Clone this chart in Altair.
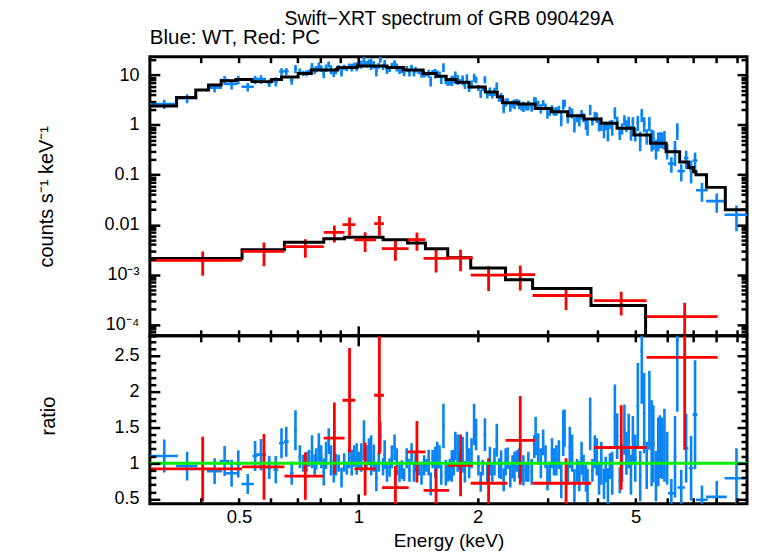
import altair as alt
import numpy as np
import pandas as pd

FONT = "Liberation Sans"
BLUE = "#0a84f5"
RED = "#ff0000"
GREEN = "#00ee00"

W = 599
H_TOP = 280
H_BOT = 168.5

E_DOMAIN = [0.298, 9.55]
C_DOMAIN = [5.9e-5, 23.4]
R_DOMAIN = [0.433, 2.78]

# ---------------- model (step functions) ----------------
wt_edges = [0.298, 0.348, 0.389, 0.419, 0.451, 0.491, 0.539, 0.604, 0.640, 0.705,
            0.761, 0.887, 0.994, 1.181, 1.299, 1.457, 1.572, 1.665, 1.764, 1.900,
            2.090, 2.240, 2.310, 2.530, 2.790, 3.070, 3.370, 3.710, 4.090, 4.490,
            4.950, 5.450, 5.970, 6.460, 6.800, 7.000, 7.100, 7.550, 8.420, 9.550]
wt_model = [2.4, 3.57, 5.0, 6.3, 7.7, 8.2, 7.4, 8.2, 9.2, 10.8,
            12.6, 14.2, 15.3, 14.2, 12.6, 10.8, 9.5, 8.2, 7.2, 5.8,
            4.6, 3.7, 2.8, 2.63, 2.15, 1.84, 1.53, 1.32, 1.08, 0.86,
            0.63, 0.43, 0.29, 0.18, 0.14, 0.115, 0.1, 0.056, 0.02]

pc_edges = [0.298, 0.509, 0.651, 0.818, 0.923, 1.154, 1.330, 1.476, 1.680, 1.920,
            2.350, 2.750, 3.860, 5.300, 9.550]
pc_model = [2.09e-3, 3.16e-3, 4.43e-3, 5.25e-3, 5.57e-3, 5.0e-3, 4.3e-3, 3.3e-3,
            2.16e-3, 1.36e-3, 7.9e-4, 5.25e-4, 2.4e-4, 1e-5]

# ---------------- WT data (blue) ----------------
blue_e = [
    0.324, 0.370, 0.434, 0.460, 0.479, 0.498, 0.526, 0.549, 0.568, 0.596, 0.619, 0.640, 0.658, 0.679, 0.694,
    0.712, 0.726, 0.740, 0.751, 0.764, 0.776, 0.783, 0.795, 0.806, 0.818, 0.829, 0.842, 0.853, 0.867, 0.878,
    0.892, 0.907, 0.921, 0.935, 0.948, 0.962, 0.976, 0.990, 1.004, 1.017, 1.033, 1.049, 1.063, 1.077, 1.094,
    1.110, 1.126, 1.136, 1.154, 1.165, 1.181, 1.199, 1.215, 1.234, 1.250, 1.270, 1.287, 1.304, 1.324, 1.345,
    1.362, 1.381, 1.394, 1.421, 1.443, 1.465, 1.485, 1.504, 1.522, 1.539, 1.563, 1.581, 1.602, 1.618, 1.639,
    1.662, 1.681, 1.701, 1.720, 1.740, 1.756, 1.780, 1.801, 1.832, 1.856, 1.878, 1.903, 1.929, 1.958, 1.981,
    2.008, 2.035, 2.058, 2.085, 2.114, 2.146, 2.176, 2.204, 2.234, 2.264, 2.291, 2.325, 2.352, 2.379, 2.416,
    2.448, 2.476, 2.510, 2.544, 2.577, 2.607, 2.648, 2.683, 2.736, 2.777, 2.799, 2.841, 2.885, 2.924, 2.964,
    2.998, 3.038, 3.078, 3.114, 3.157, 3.204, 3.248, 3.286, 3.311, 3.374, 3.413, 3.460, 3.506, 3.560, 3.607,
    3.655, 3.697, 3.749, 3.783, 3.842, 3.893, 3.947, 3.992, 4.045, 4.099, 4.163, 4.204, 4.259, 4.309, 4.366,
    4.434, 4.493, 4.562, 4.623, 4.687, 4.741, 4.804, 4.868, 4.923, 4.992, 5.067, 5.137, 5.184, 5.256, 5.335,
    5.418, 5.490, 5.543, 5.629, 5.704, 5.760, 5.836, 5.913, 6.006, 6.155, 6.287, 6.371, 6.518, 6.707, 6.902,
    7.063, 7.352, 8.011, 8.983]
blue_hw = [
    0.027, 0.023, 0.019, 0.013, 0.016, 0.008, 0.019, 0.008, 0.017, 0.008, 0.008, 0.009, 0.009, 0.007, 0.006,
    0.006, 0.006, 0.006, 0.006, 0.006, 0.006, 0.006, 0.006, 0.006, 0.006, 0.006, 0.006, 0.006, 0.006, 0.006,
    0.007, 0.007, 0.007, 0.007, 0.007, 0.007, 0.007, 0.007, 0.007, 0.007, 0.007, 0.007, 0.007, 0.007, 0.007,
    0.009, 0.009, 0.009, 0.009, 0.009, 0.009, 0.009, 0.009, 0.009, 0.009, 0.009, 0.009, 0.009, 0.009, 0.009,
    0.010, 0.010, 0.010, 0.010, 0.010, 0.010, 0.010, 0.010, 0.010, 0.010, 0.010, 0.010, 0.010, 0.010, 0.010,
    0.012, 0.012, 0.012, 0.012, 0.012, 0.012, 0.012, 0.012, 0.012, 0.012, 0.012, 0.012, 0.012, 0.012, 0.012,
    0.015, 0.015, 0.015, 0.015, 0.015, 0.015, 0.015, 0.015, 0.015, 0.015, 0.015, 0.015, 0.015, 0.015, 0.015,
    0.018, 0.018, 0.018, 0.018, 0.018, 0.018, 0.018, 0.018, 0.018, 0.018, 0.018, 0.018, 0.018, 0.018, 0.018,
    0.021, 0.021, 0.021, 0.021, 0.021, 0.021, 0.021, 0.021, 0.021, 0.021, 0.021, 0.021, 0.021, 0.021, 0.021,
    0.025, 0.025, 0.025, 0.025, 0.025, 0.025, 0.025, 0.025, 0.025, 0.025, 0.025, 0.025, 0.025, 0.025, 0.025,
    0.033, 0.033, 0.033, 0.033, 0.033, 0.033, 0.033, 0.033, 0.033, 0.033, 0.038, 0.038, 0.038, 0.038, 0.038,
    0.040, 0.040, 0.040, 0.040, 0.040, 0.040, 0.040, 0.040, 0.040, 0.120, 0.050, 0.050, 0.140, 0.090, 0.090,
    0.100, 0.250, 0.480, 0.600]
blue_ratio = [
    1.10, 0.96, 0.89, 1.03, 0.86, 0.99, 0.71, 1.10, 1.12, 0.94, 0.91, 1.28, 1.30, 0.86, 1.46,
    1.09, 1.00, 1.02, 1.07, 1.16, 0.98, 1.06, 1.22, 1.09, 0.88, 1.11, 1.31, 1.04, 0.88, 0.98,
    1.00, 0.80, 1.01, 0.93, 1.07, 1.01, 1.10, 1.06, 1.04, 1.08, 1.32, 1.09, 1.16, 1.11, 1.07,
    0.80, 1.02, 1.37, 0.95, 1.12, 0.88, 0.94, 1.09, 1.22, 1.02, 0.88, 0.91, 0.84, 1.07, 0.90,
    1.15, 0.88, 1.02, 0.91, 0.86, 0.97, 0.97, 1.01, 0.71, 1.06, 1.01, 1.11, 1.09, 0.84, 1.52,
    0.87, 0.87, 0.91, 0.96, 1.01, 1.24, 1.14, 1.04, 1.12, 0.88, 1.23, 1.00, 1.14, 1.54, 1.40,
    0.97, 0.74, 0.94, 1.40, 0.88, 1.03, 0.86, 1.02, 1.32, 0.93, 0.98, 0.77, 1.02, 1.07, 0.82,
    0.95, 0.95, 1.03, 1.00, 0.88, 0.90, 0.88, 0.95, 0.88, 1.23, 1.38, 1.20, 1.00, 1.29, 1.09,
    0.80, 0.86, 1.14, 1.02, 1.04, 1.12, 0.76, 1.42, 1.49, 0.86, 1.22, 1.14, 0.69, 0.90, 0.82,
    1.07, 0.93, 0.79, 0.69, 1.55, 0.90, 1.16, 1.09, 0.79, 1.00, 0.71, 0.91, 0.68, 0.96, 0.86,
    1.65, 1.38, 0.76, 1.00, 1.47, 1.14, 1.31, 0.84, 1.34, 1.07, 1.80, 0.82, 2.58, 1.70, 0.97,
    1.74, 1.28, 1.27, 0.82, 1.16, 1.23, 1.21, 1.25, 1.07, 0.58, 1.09, 2.72, 0.66, 1.21, 0.93,
    1.68, 0.49, 0.53, 0.79]
blue_rerr = [
    0.23, 0.20, 0.18, 0.21, 0.19, 0.19, 0.14, 0.21, 0.22, 0.16, 0.19, 0.21, 0.21, 0.16, 0.28,
    0.16, 0.12, 0.14, 0.12, 0.23, 0.15, 0.15, 0.20, 0.16, 0.19, 0.19, 0.18, 0.21, 0.15, 0.15,
    0.12, 0.14, 0.13, 0.09, 0.14, 0.18, 0.15, 0.22, 0.12, 0.20, 0.28, 0.16, 0.19, 0.28, 0.19,
    0.19, 0.14, 0.21, 0.12, 0.20, 0.14, 0.13, 0.16, 0.18, 0.19, 0.14, 0.13, 0.09, 0.14, 0.16,
    0.13, 0.14, 0.14, 0.08, 0.16, 0.14, 0.09, 0.18, 0.16, 0.13, 0.22, 0.19, 0.16, 0.14, 0.31,
    0.18, 0.13, 0.15, 0.22, 0.18, 0.20, 0.26, 0.12, 0.25, 0.15, 0.21, 0.21, 0.21, 0.29, 0.22,
    0.14, 0.14, 0.11, 0.23, 0.14, 0.20, 0.12, 0.19, 0.23, 0.14, 0.20, 0.16, 0.19, 0.15, 0.16,
    0.16, 0.21, 0.15, 0.21, 0.14, 0.21, 0.14, 0.21, 0.18, 0.16, 0.27, 0.22, 0.21, 0.18, 0.16,
    0.18, 0.16, 0.21, 0.19, 0.21, 0.20, 0.25, 0.32, 0.26, 0.16, 0.29, 0.26, 0.23, 0.16, 0.21,
    0.23, 0.19, 0.19, 0.23, 0.37, 0.16, 0.23, 0.26, 0.23, 0.30, 0.21, 0.18, 0.25, 0.18, 0.30,
    0.45, 0.32, 0.18, 0.26, 0.35, 0.30, 0.38, 0.28, 0.32, 0.33, 0.60, 0.35, 0.75, 0.56, 0.33,
    0.55, 0.60, 0.54, 0.35, 0.48, 0.44, 0.43, 0.51, 0.37, 0.20, 0.57, 1.00, 0.25, 0.48, 0.45,
    0.76, 0.20, 0.22, 0.42]

# ---------------- PC data (red) ----------------
red_e = [0.405, 0.578, 0.735, 0.870, 0.950, 1.040, 1.130, 1.240, 1.405, 1.570,
         1.810, 2.130, 2.560, 3.340, 4.600, 6.650]
red_lo = [0.300, 0.509, 0.651, 0.818, 0.912, 0.977, 1.096, 1.147, 1.330, 1.460,
          1.684, 1.920, 2.350, 2.750, 3.930, 5.330]
red_hi = [0.509, 0.651, 0.818, 0.923, 0.983, 1.108, 1.160, 1.339, 1.476, 1.694,
          1.944, 2.375, 2.790, 3.860, 5.330, 8.050]
red_counts = [1.93e-3, 2.92e-3, 3.63e-3, 7.0e-3, 1.0e-2, 4.94e-3, 1.05e-2, 3.3e-3,
              5.0e-3, 2.1e-3, 2.16e-3, 9.7e-4, 1.0e-3, 3.8e-4, 3.0e-4, 1.43e-4]
red_cerr = [0.98e-3, 1.45e-3, 1.45e-3, 2.6e-3, 4.0e-3, 2.1e-3, 4.5e-3, 1.4e-3,
            2.0e-3, 1.0e-3, 1.0e-3, 5.0e-4, 5.2e-4, 1.85e-4, 1.5e-4, 1.3e-4]
red_ratio = [0.92, 0.95, 0.82, 1.35, 1.88, 0.92, 1.95, 0.66, 1.16, 0.62,
             0.97, 0.72, 1.32, 0.72, 1.22, 2.48]
red_rerr = [0.45, 0.46, 0.33, 0.50, 0.73, 0.37, 0.82, 0.30, 0.43, 0.30,
            0.43, 0.35, 0.62, 0.35, 0.59, 1.29]

unity = [1.0]

# tick positions / labels
X_TICKS = [0.4, 0.5, 0.6, 0.7, 0.8, 0.9, 1, 2, 3, 4, 5, 6, 7, 8, 9]
X_LABELS = [0.5, 1, 2, 5]
C_LABELS = [1e-4, 1e-3, 1e-2, 0.1, 1, 10]
C_TICKS = [m * 10.0 ** k for k in range(-5, 2) for m in range(1, 10)
           if C_DOMAIN[0] <= m * 10.0 ** k <= C_DOMAIN[1]]
R_LABELS = [0.5, 1, 1.5, 2, 2.5]
R_TICKS = [round(0.5 + 0.1 * i, 1) for i in range(23)]

# ---------------- tables ----------------
be = np.array(blue_e)
bhw = np.array(blue_hw)
br = np.array(blue_ratio)
bre = np.array(blue_rerr)
idx = np.clip(np.searchsorted(wt_edges, be, side="right") - 1, 0, len(wt_model) - 1)
mod = np.array(wt_model)[idx]
blue = pd.DataFrame({
    "e": be, "e_lo": be - bhw, "e_hi": be + bhw,
    "c": br * mod,
    "c_lo": np.maximum((br - bre) * mod, 1e-7),
    "c_hi": (br + bre) * mod,
    "r": br, "r_lo": br - bre, "r_hi": br + bre,
})
rc = np.array(red_counts)
rce = np.array(red_cerr)
rr = np.array(red_ratio)
rre = np.array(red_rerr)
red = pd.DataFrame({
    "e": red_e, "e_lo": red_lo, "e_hi": red_hi,
    "c": rc, "c_lo": np.maximum(rc - rce, 1e-7), "c_hi": rc + rce,
    "r": rr, "r_lo": rr - rre, "r_hi": rr + rre,
})
wt_line = pd.DataFrame({"e": wt_edges, "v": wt_model + [wt_model[-1]]})
pc_line = pd.DataFrame({"e": pc_edges, "v": pc_model + [pc_model[-1]]})
one = pd.DataFrame({"r": unity})

xs = alt.Scale(type="log", domain=E_DOMAIN, nice=False)
ys_c = alt.Scale(type="log", domain=C_DOMAIN, nice=False)
ys_r = alt.Scale(type="linear", domain=R_DOMAIN, nice=False, zero=False)

TW = 2.5


def inward(orient, offset, values, test, major=10, minor=6):
    return alt.Axis(orient=orient, offset=offset, values=values, labels=False,
                    domain=False, grid=False, ticks=True, tickColor="black",
                    tickWidth=TW, zindex=1,
                    tickSize={"condition": {"test": test, "value": major}, "value": minor})


X_TEST = "datum.value == 1"
C_TEST = "abs(log(datum.value)/LN10 - round(log(datum.value)/LN10)) < 0.01"
R_TEST = "abs(datum.value*2 - round(datum.value*2)) < 0.01"

c_label_axis = alt.Axis(
    orient="left", values=C_LABELS, ticks=False, domain=False, grid=False,
    labelPadding=11, labelFontSize=18,
    labelExpr="datum.value < 0.0005 ? '10⁻⁴' : (datum.value < 0.005 ? '10⁻³' : format(datum.value, '~g'))",
    titleFontSize=20, titleFontWeight="normal", titleX=-104, titleY=H_TOP / 2,
    titleAngle=270, titleAlign="center", titleBaseline="middle")
r_label_axis = alt.Axis(
    orient="left", values=R_LABELS, ticks=False, domain=False, grid=False,
    labelPadding=11, labelFontSize=18, format="~g",
    titleFontSize=20, titleFontWeight="normal", titleX=-102, titleY=80,
    titleAngle=270, titleAlign="center", titleBaseline="middle")
x_label_axis = alt.Axis(
    orient="bottom", values=X_LABELS, ticks=False, domain=False, grid=False,
    labelPadding=4, labelFontSize=18.5, format="~g", labelFlush=False,
    titleFontSize=19, titleFontWeight="normal", titlePadding=5)

# ---------------- top panel ----------------
t1 = alt.Chart(blue).mark_rule(color=BLUE, strokeWidth=2.6, clip=True).encode(
    x=alt.X("e:Q", scale=xs, axis=inward("bottom", -H_TOP, X_TICKS, X_TEST), title=None),
    y=alt.Y("c_lo:Q", scale=ys_c, axis=c_label_axis, title="counts s⁻¹ keV⁻¹"),
    y2="c_hi:Q")
t2 = alt.Chart(blue).mark_rule(color=BLUE, strokeWidth=2.6, clip=True).encode(
    x=alt.X("e_lo:Q", scale=xs, axis=inward("top", -H_TOP, X_TICKS, X_TEST), title=None),
    x2="e_hi:Q",
    y=alt.Y("c:Q", scale=ys_c, axis=inward("right", -W, C_TICKS, C_TEST), title=None))
t3 = alt.Chart(wt_line).mark_line(color="black", strokeWidth=3, interpolate="step-after",
                                  clip=True).encode(
    x=alt.X("e:Q", scale=xs, axis=None),
    y=alt.Y("v:Q", scale=ys_c, axis=inward("left", -W, C_TICKS, C_TEST), title=None))
t4 = alt.Chart(red).mark_rule(color=RED, strokeWidth=2.8, clip=True).encode(
    x=alt.X("e:Q", scale=xs, axis=None),
    y=alt.Y("c_lo:Q", scale=ys_c, axis=None), y2="c_hi:Q")
t5 = alt.Chart(red).mark_rule(color=RED, strokeWidth=2.8, clip=True).encode(
    x=alt.X("e_lo:Q", scale=xs, axis=None), x2="e_hi:Q",
    y=alt.Y("c:Q", scale=ys_c, axis=None))
t6 = alt.Chart(pc_line).mark_line(color="black", strokeWidth=3, interpolate="step-after",
                                  clip=True).encode(
    x=alt.X("e:Q", scale=xs, axis=None),
    y=alt.Y("v:Q", scale=ys_c, axis=None))

top = alt.layer(t1, t2, t3, t4, t6, t5).resolve_axis(
    x="independent", y="independent").properties(
    width=W, height=H_TOP,
    title=alt.TitleParams("Blue: WT, Red: PC", anchor="start", frame="group",
                          fontSize=20.5, fontWeight="normal", offset=6.8))

# ---------------- bottom panel ----------------
b1 = alt.Chart(blue).mark_rule(color=BLUE, strokeWidth=2.6, clip=True).encode(
    x=alt.X("e:Q", scale=xs, axis=x_label_axis, title="Energy (keV)"),
    y=alt.Y("r_lo:Q", scale=ys_r, axis=r_label_axis, title="ratio"),
    y2="r_hi:Q")
b2 = alt.Chart(blue).mark_rule(color=BLUE, strokeWidth=2.6, clip=True).encode(
    x=alt.X("e_lo:Q", scale=xs, axis=inward("top", -H_BOT, X_TICKS, X_TEST), title=None),
    x2="e_hi:Q",
    y=alt.Y("r:Q", scale=ys_r, axis=inward("right", -W, R_TICKS, R_TEST), title=None))
b3 = alt.Chart(red).mark_rule(color=RED, strokeWidth=2.8, clip=True).encode(
    x=alt.X("e:Q", scale=xs, axis=inward("bottom", -H_BOT, X_TICKS, X_TEST), title=None),
    y=alt.Y("r_lo:Q", scale=ys_r, axis=inward("left", -W, R_TICKS, R_TEST), title=None),
    y2="r_hi:Q")
b4 = alt.Chart(red).mark_rule(color=RED, strokeWidth=2.8, clip=True).encode(
    x=alt.X("e_lo:Q", scale=xs, axis=None), x2="e_hi:Q",
    y=alt.Y("r:Q", scale=ys_r, axis=None))
b5 = alt.Chart(one).mark_rule(color=GREEN, strokeWidth=3, clip=True).encode(
    y=alt.Y("r:Q", scale=ys_r, axis=None))

bottom = alt.layer(b1, b2, b3, b4, b5).resolve_axis(
    x="independent", y="independent").properties(width=W, height=H_BOT)

chart = alt.vconcat(top, bottom, spacing=0, bounds="flush").properties(
    title=alt.TitleParams("Swift−XRT spectrum of GRB 090429A", anchor="middle",
                          fontSize=19.5, fontWeight="normal", offset=-3, dx=57),
    padding={"left": 26.3, "top": 0, "right": 0, "bottom": 0},
).configure_view(stroke="black", strokeWidth=3).configure_axis(
    labelFont=FONT, titleFont=FONT, labelColor="black", titleColor="black"
).configure_title(font=FONT, color="black")

chart.save("out.html", embed_options={"renderer": "svg", "actions": False})
